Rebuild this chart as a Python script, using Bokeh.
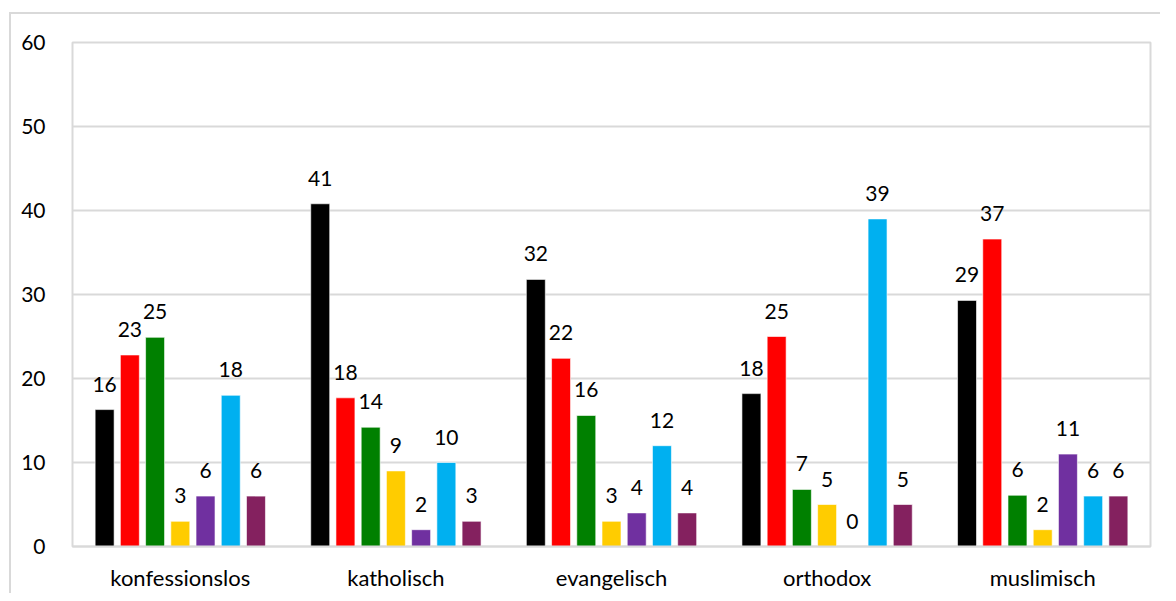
from bokeh.plotting import figure
from bokeh.models import ColumnDataSource, FactorRange, FixedTicker, Range1d, InlineStyleSheet
from bokeh.transform import dodge
from bokeh.core.properties import value
from bokeh.embed import file_html
from bokeh.resources import INLINE

categories = ["konfessionslos", "katholisch", "evangelisch", "orthodox", "muslimisch"]
s1 = [16.3, 40.8, 31.8, 18.2, 29.3]
s2 = [22.8, 17.7, 22.4, 25.0, 36.6]
s3 = [24.9, 14.2, 15.6, 6.8, 6.1]
s4 = [3.0, 9.0, 3.0, 5.0, 2.0]
s5 = [6.0, 2.0, 4.0, 0.0, 11.0]
s6 = [18.0, 10.0, 12.0, 39.0, 6.0]
s7 = [6.0, 3.0, 4.0, 5.0, 6.0]
series_values = [s1, s2, s3, s4, s5, s6, s7]
colors = ["#000000", "#FF0000", "#008000", "#FFCC00", "#7030A0", "#00B0F0", "#84215F"]
y_ticks = [0, 10, 20, 30, 40, 50, 60]

FONT = "Lato"

p = figure(
    x_range=FactorRange(*categories),
    y_range=Range1d(0, 60),
    width=1160, height=585,
    frame_width=1078, frame_height=504,
    min_border_left=72, min_border_right=10, min_border_top=42, min_border_bottom=39,
    output_backend="svg", toolbar_location=None,
)

# outer chart-area border (left and top edges visible)
p.stylesheets = [InlineStyleSheet(css="""
:host { overflow: hidden; }
:host::after {
  content: ""; position: absolute; left: 9px; top: 12px;
  width: 3000px; height: 3000px; box-sizing: border-box;
  border: 2px solid #d9d9d9; pointer-events: none;
}
""")]

step = 0.117
width = 0.088
for i, (vals, col) in enumerate(zip(series_values, colors)):
    off = (i - 3) * step
    src = ColumnDataSource(dict(cat=categories, v=vals,
                                lab=[str(int(round(v))) for v in vals]))
    p.vbar(x=dodge("cat", off, range=p.x_range), top="v", bottom=0, width=width,
           source=src, fill_color=col, line_color="white", line_alpha=0.6, line_width=1)
    p.text(x=dodge("cat", off, range=p.x_range), y="v", text="lab", source=src,
           text_align="center", text_baseline="bottom", y_offset=-18,
           text_font=value(FONT), text_font_size="21px", text_color="#000000")

p.outline_line_color = "#d9d9d9"
p.outline_line_width = 2
p.background_fill_color = "white"
p.border_fill_color = "white"

p.xgrid.grid_line_color = None
p.ygrid.grid_line_color = "#d9d9d9"
p.ygrid.grid_line_width = 2
p.ygrid.ticker = FixedTicker(ticks=y_ticks)

p.yaxis.ticker = FixedTicker(ticks=y_ticks)
p.yaxis.axis_line_color = None
p.yaxis.major_tick_line_color = None
p.yaxis.minor_tick_line_color = None
p.yaxis.major_label_standoff = 21
p.yaxis.major_label_text_font = FONT
p.yaxis.major_label_text_font_size = "21px"
p.yaxis.major_label_text_color = "#000000"

p.xaxis.axis_line_color = "#d9d9d9"
p.xaxis.axis_line_width = 2
p.xaxis.major_tick_line_color = None
p.xaxis.minor_tick_line_color = None
p.xaxis.major_label_standoff = 11
p.xaxis.major_label_text_font = FONT
p.xaxis.major_label_text_font_size = "22px"
p.xaxis.major_label_text_color = "#000000"
p.x_range.range_padding = 0

open("out.html", "w").write(file_html(p, INLINE))
